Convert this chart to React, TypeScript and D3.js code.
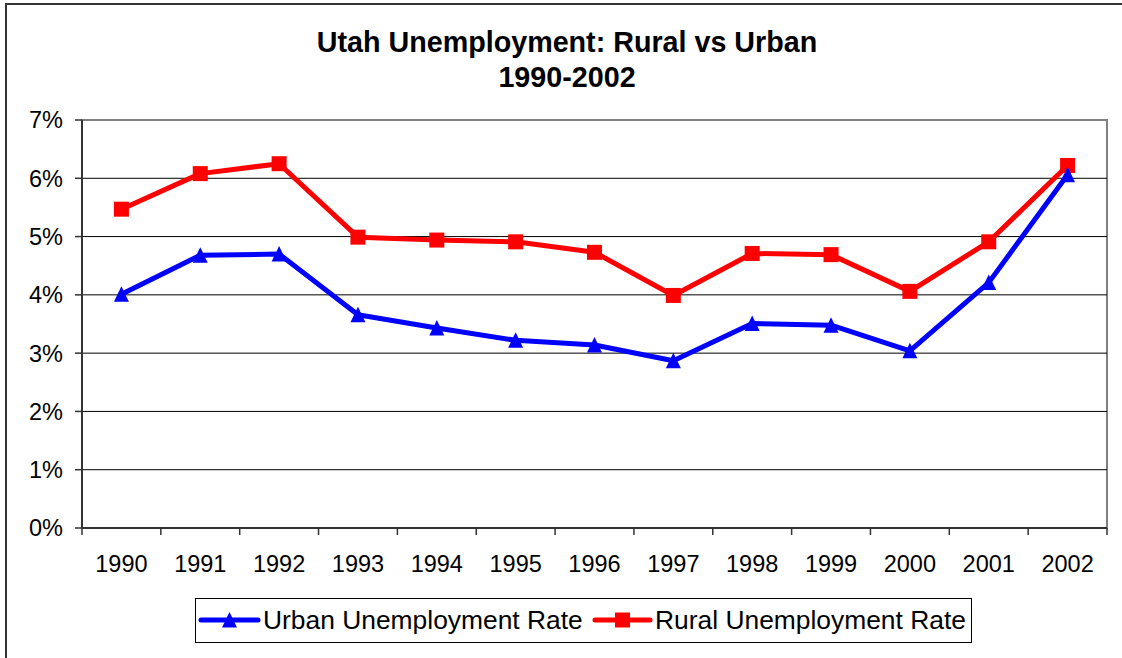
import React from "react";
import * as d3 from "d3";

const years = ["1990","1991","1992","1993","1994","1995","1996","1997","1998","1999","2000","2001","2002"];
const urban = [4.01, 4.68, 4.70, 3.66, 3.43, 3.22, 3.14, 2.87, 3.51, 3.48, 3.04, 4.21, 6.06];
const rural = [5.47, 6.08, 6.25, 4.99, 4.94, 4.91, 4.73, 3.99, 4.71, 4.69, 4.06, 4.91, 6.22];
const yTicks = [0, 1, 2, 3, 4, 5, 6, 7];
const titleLines = ["Utah Unemployment: Rural vs Urban", "1990-2002"];
const seriesNames = ["Urban Unemployment Rate", "Rural Unemployment Rate"];

const W = 1122, H = 658;
const plot = { left: 82, right: 1107, top: 120, bottom: 528 };
const FONT = "Arial, 'Liberation Sans', sans-serif";

export default function App() {
  const x = d3.scaleBand().domain(years).range([plot.left, plot.right]).padding(0);
  const y = d3.scaleLinear().domain([0, 7]).range([plot.bottom, plot.top]);
  const cx = (d: string) => (x(d) as number) + x.bandwidth() / 2;
  const line = d3.line<number>().x((_, i) => cx(years[i])).y((v) => y(v));
  const triPath = (d3.line()([[0, -8], [7.5, 7.5], [-7.5, 7.5]]) as string) + "Z";
  const sq = (px: number, py: number, k: string | number) => (
    <rect key={k} x={px - 7.5} y={py - 7.5} width={15} height={15} fill="#FF0000" />
  );
  const boundaries = [...years.map((d) => x(d) as number), plot.right];

  return (
    <svg width={W} height={H} style={{ position: "absolute", left: 0, top: 0, background: "#fff" }} fontFamily={FONT}>
      <rect x={0} y={0} width={W} height={H} fill="#fff" />
      {/* outer chart border */}
      <path d={`M6,${H} V4 H${W}`} fill="none" stroke="#333" strokeWidth={2} />
      {/* title */}
      <text x={567} y={52} textAnchor="middle" fontWeight="bold" fontSize={28.7} fill="#000">{titleLines[0]}</text>
      <text x={567} y={87} textAnchor="middle" fontWeight="bold" fontSize={28.7} fill="#000">{titleLines[1]}</text>
      {/* plot area border */}
      <rect x={plot.left} y={plot.top} width={plot.right - plot.left} height={plot.bottom - plot.top} fill="#fff" stroke="#808080" strokeWidth={2} />
      {/* gridlines */}
      {yTicks.filter((t) => t > 0 && t < 7).map((t) => (
        <line key={t} x1={plot.left} x2={plot.right} y1={y(t)} y2={y(t)} stroke="#000" strokeWidth={1} />
      ))}
      {/* y axis */}
      <line x1={plot.left} x2={plot.left} y1={plot.top} y2={plot.bottom} stroke="#333" strokeWidth={2} />
      {yTicks.map((t) => (
        <g key={t}>
          <line x1={plot.left - 7} x2={plot.left} y1={y(t)} y2={y(t)} stroke="#333" strokeWidth={1.5} />
          <text x={63} y={y(t)} dy="0.36em" textAnchor="end" fontSize={23.5} fill="#000">{t}%</text>
        </g>
      ))}
      {/* x axis */}
      <line x1={plot.left} x2={plot.right} y1={plot.bottom} y2={plot.bottom} stroke="#333" strokeWidth={2} />
      {boundaries.map((b, i) => (
        <line key={i} x1={b} x2={b} y1={plot.bottom} y2={plot.bottom + 7} stroke="#333" strokeWidth={1.5} />
      ))}
      {years.map((d) => (
        <text key={d} x={cx(d)} y={572} textAnchor="middle" fontSize={23.5} fill="#000">{d}</text>
      ))}
      {/* series */}
      <path d={line(rural) as string} fill="none" stroke="#FF0000" strokeWidth={5} strokeLinejoin="round" />
      {rural.map((v, i) => sq(cx(years[i]), y(v), i))}
      <path d={line(urban) as string} fill="none" stroke="#0000FF" strokeWidth={5} strokeLinejoin="round" />
      {urban.map((v, i) => (
        <path key={i} d={triPath} transform={`translate(${cx(years[i])},${y(v)})`} fill="#0000FF" />
      ))}
      {/* legend */}
      <rect x={195.5} y={598.5} width={776} height={44} fill="#fff" stroke="#000" strokeWidth={1} />
      <line x1={201} x2={258} y1={620} y2={620} stroke="#0000FF" strokeWidth={5} strokeLinecap="round" />
      <path d={triPath} transform="translate(229.5,620)" fill="#0000FF" />
      <text x={263} y={629} fontSize={26.4} fill="#000">{seriesNames[0]}</text>
      <line x1={595} x2={650} y1={620} y2={620} stroke="#FF0000" strokeWidth={5} strokeLinecap="round" />
      {sq(622.5, 620, "lg")}
      <text x={655} y={629} fontSize={26.4} fill="#000">{seriesNames[1]}</text>
    </svg>
  );
}
